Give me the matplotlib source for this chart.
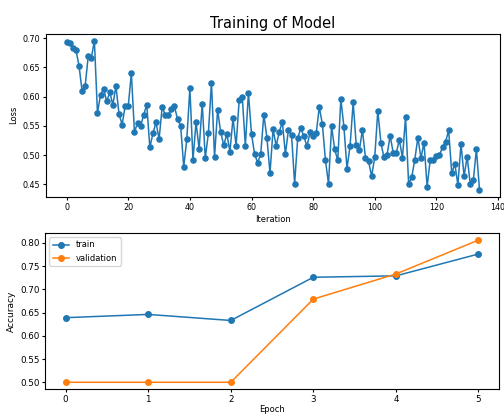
import matplotlib
matplotlib.use("Agg")
import matplotlib.pyplot as plt
import numpy as np

# loss per iteration
loss = [0.694, 0.691, 0.683, 0.680, 0.653, 0.610, 0.618, 0.669, 0.666, 0.695,
        0.572, 0.603, 0.613, 0.592, 0.607, 0.586, 0.618, 0.570, 0.552, 0.584,
        0.584, 0.640, 0.540,
        0.554, 0.549, 0.569, 0.586, 0.513, 0.537, 0.556, 0.527, 0.582, 0.569,
        0.569, 0.578, 0.583, 0.561, 0.550, 0.480, 0.527, 0.614, 0.492, 0.556,
        0.510, 0.588, 0.495, 0.537, 0.624,
        0.497, 0.577, 0.539, 0.517, 0.536, 0.506, 0.563, 0.516, 0.594, 0.600,
        0.516, 0.606, 0.536, 0.502, 0.487, 0.502, 0.569, 0.530, 0.469, 0.544,
        0.516, 0.539, 0.557, 0.502, 0.543, 0.534,
        0.451, 0.529, 0.546, 0.532, 0.515, 0.539, 0.532, 0.537, 0.582, 0.553,
        0.491, 0.451, 0.549, 0.510, 0.491, 0.596, 0.548, 0.477, 0.516, 0.590,
        0.517, 0.508, 0.543, 0.495, 0.489,
        0.464, 0.496, 0.576, 0.521, 0.496, 0.500, 0.533, 0.504, 0.504, 0.526,
        0.495, 0.565, 0.451, 0.462, 0.492, 0.530, 0.495, 0.521, 0.446, 0.491,
        0.491, 0.499, 0.500, 0.513, 0.523, 0.542, 0.469, 0.485, 0.449, 0.519,
        0.464, 0.497, 0.451, 0.457, 0.510, 0.441]

epochs = [0, 1, 2, 3, 4, 5]
train_acc = [0.639, 0.646, 0.633, 0.726, 0.729, 0.776]
val_acc = [0.500, 0.500, 0.500, 0.679, 0.733, 0.806]

fig = plt.figure(figsize=(5.04, 4.16), dpi=100)

ax1 = fig.add_axes([0.0913, 0.5264, 0.901, 0.393])
ax1.plot(np.arange(len(loss)), loss, marker='o', markersize=3.7, linewidth=1.1)
ax1.set_title('Training of Model', fontsize=10.5, pad=4)
ax1.set_xlabel('Iteration', fontsize=6, labelpad=2)
ax1.set_ylabel('Loss', fontsize=6, labelpad=3)
ax1.tick_params(labelsize=5.8, length=2.5, pad=2)

ax2 = fig.add_axes([0.0893, 0.064, 0.901, 0.376])
ax2.plot(epochs, train_acc, marker='o', markersize=4, linewidth=1.1, label='train')
ax2.plot(epochs, val_acc, marker='o', markersize=4, linewidth=1.1, label='validation')
ax2.set_xlabel('Epoch', fontsize=6, labelpad=1)
ax2.set_ylabel('Accuracy', fontsize=6.5, labelpad=3)
ax2.tick_params(labelsize=6.3, length=2.5, pad=1.5)
ax2.legend(loc='upper left', fontsize=6, handlelength=2)

fig.savefig('out.png', dpi=100)
